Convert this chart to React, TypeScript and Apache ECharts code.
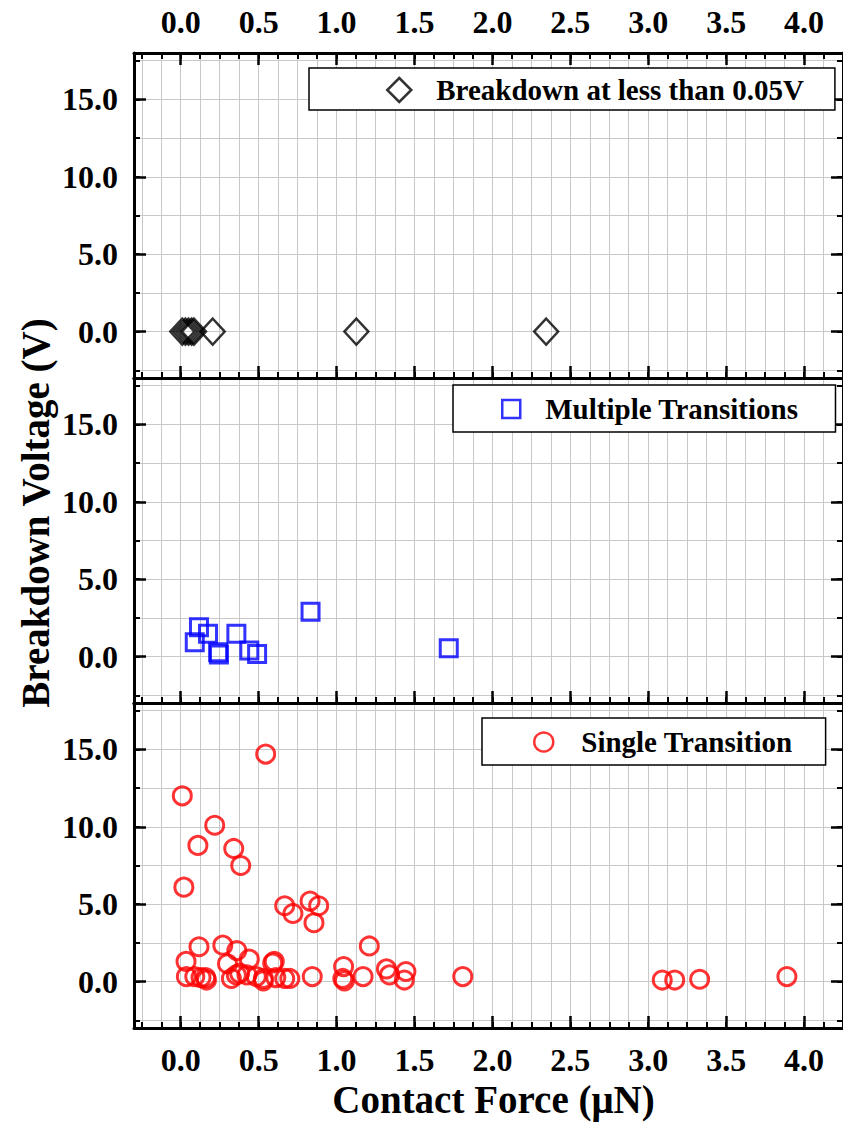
import React, { useEffect, useRef } from 'react';
import * as echarts from 'echarts';

// ---- data ----
const lowForce = [0.01, 0.03, 0.05, 0.07, 0.085, 0.205, 1.127, 2.345];
const lowVoltage = [0, 0, 0, 0, 0, 0, 0, 0];

const multiForce = [0.09, 0.117, 0.175, 0.24, 0.245, 0.357, 0.44, 0.49, 0.833, 1.72];
const multiVoltage = [0.92, 1.9, 1.47, 0.28, 0.13, 1.47, 0.39, 0.17, 2.9, 0.54];

const singleForce = [
  0.545, 0.01, 0.218, 0.11, 0.34, 0.385, 0.02, 0.667, 0.72, 0.83, 0.885, 0.855,
  0.117, 0.27, 0.36, 0.034, 0.3, 0.44, 0.59, 0.6, 1.21, 1.045, 1.32, 1.445,
  0.036, 0.09, 0.13, 0.16, 0.165, 0.325, 0.357, 0.378, 0.425, 0.485, 0.53, 0.53,
  0.61, 0.667, 0.7, 0.844, 1.04, 1.05, 1.17, 1.34, 1.435, 1.81, 3.09, 3.17, 3.33, 3.89,
];
const singleVoltage = [
  14.7, 12.0, 10.1, 8.8, 8.6, 7.5, 6.1, 4.9, 4.4, 5.2, 4.9, 3.8,
  2.25, 2.35, 2.0, 1.3, 1.15, 1.45, 1.2, 1.3, 2.3, 0.97, 0.82, 0.65,
  0.32, 0.32, 0.26, 0.26, 0.1, 0.2, 0.43, 0.54, 0.43, 0.32, 0.2, 0.05,
  0.26, 0.2, 0.2, 0.32, 0.2, 0.05, 0.32, 0.43, 0.1, 0.32, 0.1, 0.1, 0.15, 0.32,
];

const seriesNames = ['Breakdown at less than 0.05V', 'Multiple Transitions', 'Single Transition'];

const xMajorTicks = [0, 0.5, 1.0, 1.5, 2.0, 2.5, 3.0, 3.5, 4.0];
const yMajorTicks = [0, 5, 10, 15];
const X_MIN = -0.3;
const X_MAX = 4.25;
const Y_MIN = -3;
const Y_MAX = 18;
const xMinorTicks = Array.from({ length: 37 }, (_, i) => -0.25 + i * 0.125);
const yMinorTicks = Array.from({ length: 9 }, (_, i) => -2.5 + i * 2.5);

const FONT = 'Liberation Serif';
const labelStyle = { fontFamily: FONT, fontWeight: 'bold' as const, fontSize: 32, color: '#000' };

const GRID_LEFT = 134;
const GRID_WIDTH = 710;
const GRID_HEIGHT = 325;
const gridTops = [53, 378, 703];

function xAxesFor(g: number, bottomLabels: boolean, topLabels: boolean, topTicks: boolean) {
  const base = { type: 'value', gridIndex: g, min: X_MIN, max: X_MAX };
  return [
    {
      ...base,
      position: 'bottom',
      axisLine: { show: true, onZero: false, lineStyle: { color: '#000', width: 3 } },
      axisTick: { show: true, inside: true, length: 6, customValues: xMinorTicks, lineStyle: { color: '#000', width: 2 } },
      axisLabel: { show: false },
      splitLine: { show: true, lineStyle: { color: '#c8c8c8', width: 1 } },
    },
    {
      ...base,
      position: 'bottom',
      axisLine: { show: false, onZero: false },
      axisTick: { show: true, inside: true, length: 12, customValues: xMajorTicks, lineStyle: { color: '#000', width: 2.5 } },
      axisLabel: {
        show: bottomLabels,
        customValues: xMajorTicks,
        margin: 16,
        formatter: (v: number) => v.toFixed(1),
        ...labelStyle,
      },
      splitLine: { show: false },
    },
    {
      ...base,
      position: 'top',
      axisLine: { show: true, onZero: false, lineStyle: { color: '#000', width: 3 } },
      axisTick: { show: topTicks, inside: true, length: 6, customValues: xMinorTicks, lineStyle: { color: '#000', width: 2 } },
      axisLabel: { show: false },
      splitLine: { show: false },
    },
    {
      ...base,
      position: 'top',
      axisLine: { show: false, onZero: false },
      axisTick: { show: topTicks, inside: true, length: 12, customValues: xMajorTicks, lineStyle: { color: '#000', width: 2.5 } },
      axisLabel: {
        show: topLabels,
        customValues: xMajorTicks,
        margin: 15,
        formatter: (v: number) => v.toFixed(1),
        ...labelStyle,
      },
      splitLine: { show: false },
    },
  ];
}

function yAxesFor(g: number) {
  const base = { type: 'value', gridIndex: g, min: Y_MIN, max: Y_MAX };
  return [
    {
      ...base,
      position: 'left',
      axisLine: { show: true, onZero: false, lineStyle: { color: '#000', width: 3 } },
      axisTick: { show: true, inside: true, length: 6, customValues: yMinorTicks, lineStyle: { color: '#000', width: 2 } },
      axisLabel: { show: false },
      splitLine: { show: true, lineStyle: { color: '#c8c8c8', width: 1 } },
    },
    {
      ...base,
      position: 'left',
      axisLine: { show: false, onZero: false },
      axisTick: { show: true, inside: true, length: 12, customValues: yMajorTicks, lineStyle: { color: '#000', width: 2.5 } },
      axisLabel: {
        show: true,
        customValues: yMajorTicks,
        margin: 16,
        formatter: (v: number) => v.toFixed(1),
        ...labelStyle,
      },
      splitLine: { show: false },
    },
    {
      ...base,
      position: 'right',
      axisLine: { show: true, onZero: false, lineStyle: { color: '#000', width: 3 } },
      axisTick: { show: true, inside: true, length: 6, customValues: yMinorTicks, lineStyle: { color: '#000', width: 2 } },
      axisLabel: { show: false },
      splitLine: { show: false },
    },
    {
      ...base,
      position: 'right',
      axisLine: { show: false, onZero: false },
      axisTick: { show: true, inside: true, length: 12, customValues: yMajorTicks, lineStyle: { color: '#000', width: 2.5 } },
      axisLabel: { show: false },
      splitLine: { show: false },
    },
  ];
}

function zip(a: number[], b: number[]) {
  return a.map((v, i) => [v, b[i]]);
}

function legendFor(name: string, left: number, top: number, pad: number[], icon: number, textGap: number) {
  return {
    orient: 'horizontal',
    selectedMode: false,
    backgroundColor: '#fff',
    borderColor: '#000',
    borderWidth: 1.5,
    borderRadius: 0,
    itemStyle: { borderWidth: 2.5 },
    data: [name],
    left,
    top,
    padding: pad,
    itemWidth: icon,
    itemHeight: icon,
    textStyle: {
      fontFamily: FONT,
      fontWeight: 'bold',
      fontSize: 29,
      color: '#000',
      lineHeight: 30,
      padding: [0, 0, 0, textGap],
    },
  };
}

export default function App() {
  const ref = useRef<HTMLDivElement>(null);
  useEffect(() => {
    if (!ref.current) return;
    const chart = echarts.init(ref.current, undefined, { renderer: 'svg' });
    const option = {
      animation: false,
      backgroundColor: '#fff',
      grid: gridTops.map((t) => ({ left: GRID_LEFT, top: t, width: GRID_WIDTH, height: GRID_HEIGHT, containLabel: false })),
      xAxis: [
        ...xAxesFor(0, false, true, true),
        ...xAxesFor(1, false, false, false),
        ...xAxesFor(2, true, false, false).map((a, i) =>
          i === 1
            ? {
                ...a,
                name: 'Contact Force (\u03bcN)',
                nameLocation: 'middle',
                nameGap: 52,
                nameTextStyle: { fontFamily: FONT, fontWeight: 'bold', fontSize: 39, color: '#000', padding: [0, 0, 0, 10] },
              }
            : a
        ),
      ],
      yAxis: [...yAxesFor(0), ...yAxesFor(1), ...yAxesFor(2)],
      legend: [
        legendFor(seriesNames[0], 309, 68, [7, 31, 5, 77], 24, 20),
        legendFor(seriesNames[1], 453, 385, [9, 37, 8, 48], 18, 20),
        legendFor(seriesNames[2], 482, 718, [9, 33, 8, 51], 19, 23),
      ],
      graphic: [
        {
          type: 'text',
          x: 35,
          y: 513,
          rotation: Math.PI / 2,
          style: {
            text: 'Breakdown Voltage (V)',
            fontFamily: FONT,
            fontWeight: 'bold',
            fontSize: 39,
            fill: '#000',
            align: 'center',
            verticalAlign: 'middle',
          },
        },
      ],
      series: [
        {
          name: seriesNames[0],
          type: 'scatter',
          xAxisIndex: 0,
          yAxisIndex: 0,
          symbol: 'diamond',
          symbolSize: [24, 26],
          itemStyle: { color: 'rgba(255,255,255,0)', borderColor: '#000', borderWidth: 2.5 },
          data: zip(lowForce, lowVoltage),
        },
        {
          name: seriesNames[1],
          type: 'scatter',
          xAxisIndex: 4,
          yAxisIndex: 4,
          symbol: 'rect',
          symbolSize: 17,
          itemStyle: { color: 'rgba(255,255,255,0)', borderColor: '#0000ff', borderWidth: 3 },
          data: zip(multiForce, multiVoltage),
        },
        {
          name: seriesNames[2],
          type: 'scatter',
          xAxisIndex: 8,
          yAxisIndex: 8,
          symbol: 'circle',
          symbolSize: 18,
          itemStyle: { color: 'rgba(255,255,255,0)', borderColor: '#ff0000', borderWidth: 3 },
          data: zip(singleForce, singleVoltage),
        },
      ],
    };
    chart.setOption(option as any);
    return () => chart.dispose();
  }, []);
  return (
    <div
      ref={ref}
      style={{ position: 'absolute', left: 0, top: 0, width: 843, height: 1122, background: '#fff' }}
    />
  );
}
